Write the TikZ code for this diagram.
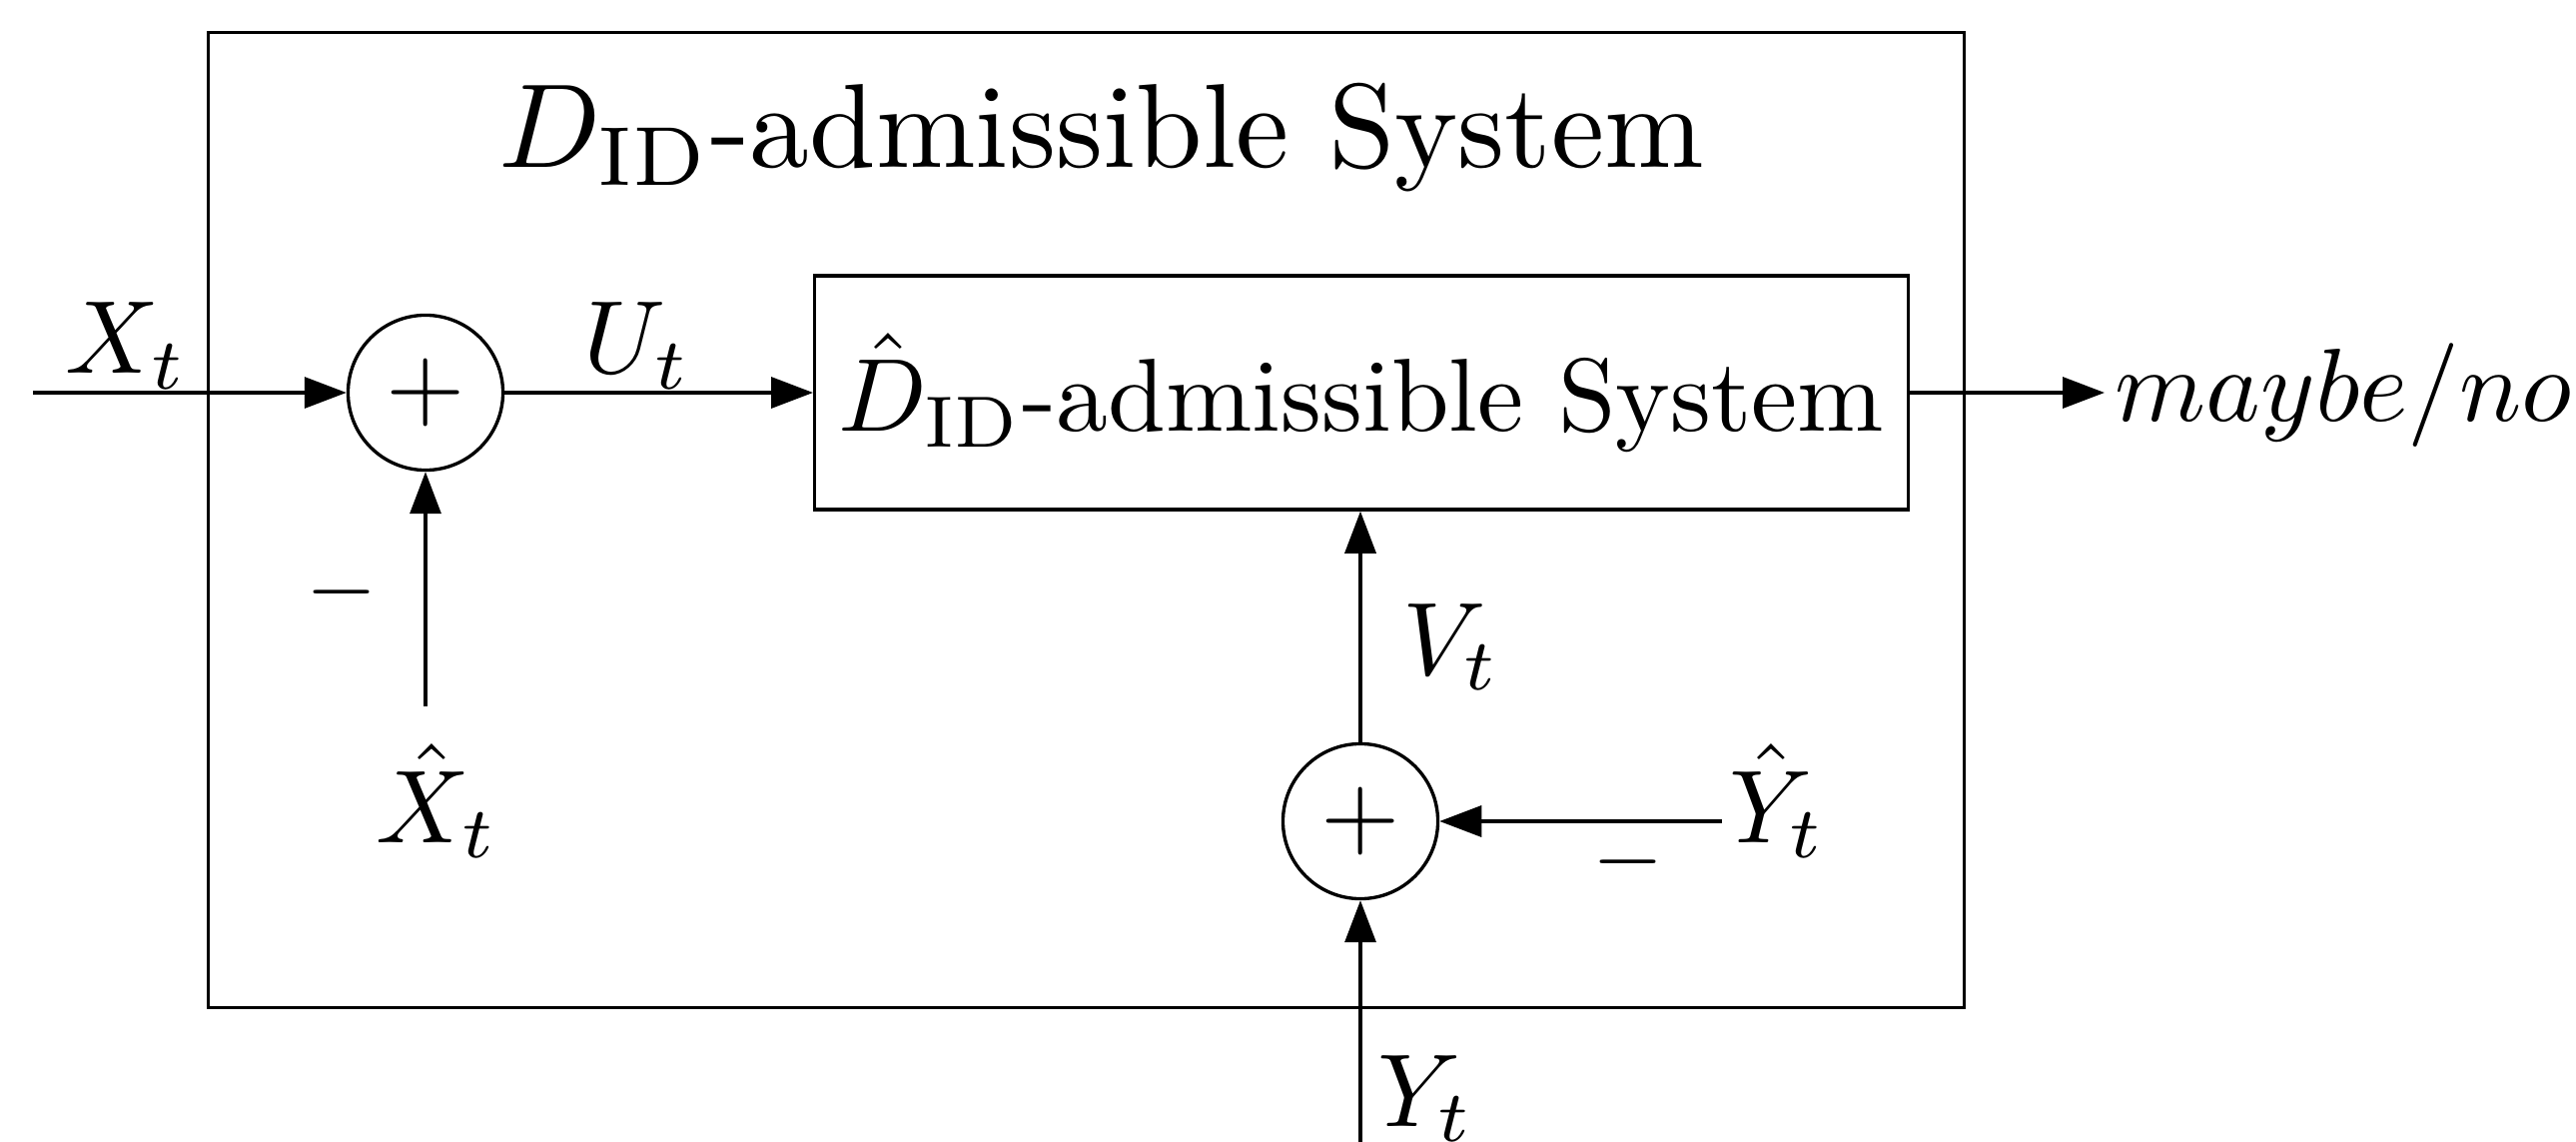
\documentclass[tikz,border=0pt]{standalone}
\usepackage{graphicx}
\usetikzlibrary{arrows.meta}
\newcommand{\Lb}[1]{\scalebox{2.95}{#1}}
\newcommand{\Tb}[1]{\scalebox{3.4}{#1}}
\begin{document}
\begin{tikzpicture}[x=0.01cm,y=-0.01cm, line width=0.95pt,
  >={Triangle[length=0.42cm,width=0.31cm]},
  lbl/.style={anchor=base, inner sep=0pt},
  minuslbl/.style={anchor=center, inner sep=0pt},
  sumnode/.style={circle, draw, minimum size=1.55cm, inner sep=0pt},
  blk/.style={draw, rectangle, inner sep=0pt}]
\useasboundingbox (0,0) rectangle (2579,1143);
% outer system box
\node[blk, minimum width=17.57cm, minimum height=9.75cm] (outer) at (1087.5,520.5) {};
\node[anchor=base west, inner sep=0pt] (title) at (498,168) {\Tb{$D_{\mathrm{ID}}$-admissible System}};
% inner box
\node[blk, minimum width=10.94cm, minimum height=2.34cm] (inner) at (1363,393) {\Lb{$\hat{D}_{\mathrm{ID}}$-admissible System}};
% summing junctions
\node[sumnode] (s1) at (426,393) {\scalebox{2.9}{$+$}};
\node[sumnode] (s2) at (1362,822) {\scalebox{2.9}{$+$}};
% free ends
\coordinate (xin) at (33,393);
\coordinate (xh) at (426,707);
\coordinate (yh) at (1724,822);
\coordinate (yin) at (1362,1143);
% labels
\node[lbl] (lx) at (127,374) {\Lb{$X_t$}};
\node[lbl] (lu) at (638,374) {\Lb{$U_t$}};
\node[lbl] (lv) at (1453,675) {\Lb{$V_t$}};
\node[lbl] (lxh) at (438,843) {\Lb{$\hat{X}_t$}};
\node[lbl] (lyh) at (1780,843) {\Lb{$\hat{Y}_t$}};
\node[lbl] (ly) at (1428,1127) {\Lb{$Y_t$}};
\node[minuslbl] (m1) at (342,593) {\scalebox{2.6}{$-$}};
\node[minuslbl] (m2) at (1630,863) {\scalebox{2.6}{$-$}};
\node[lbl, anchor=base west] (mno) at (2116,422) {\Lb{$maybe/no$}};
% connectors
\draw[->] (xin) -- (s1.west);
\draw[->] (s1.east) -- (inner.west);
\draw[->, shorten >=0.09cm] (inner.east) -- (inner.east -| mno.west);
\draw[->] (xh) -- (s1.south);
\draw[->] (s2.north) -- (s2.north |- inner.south);
\draw[->] (yh) -- (s2.east);
\draw[->] (yin) -- (s2.south);
\end{tikzpicture}
\end{document}
